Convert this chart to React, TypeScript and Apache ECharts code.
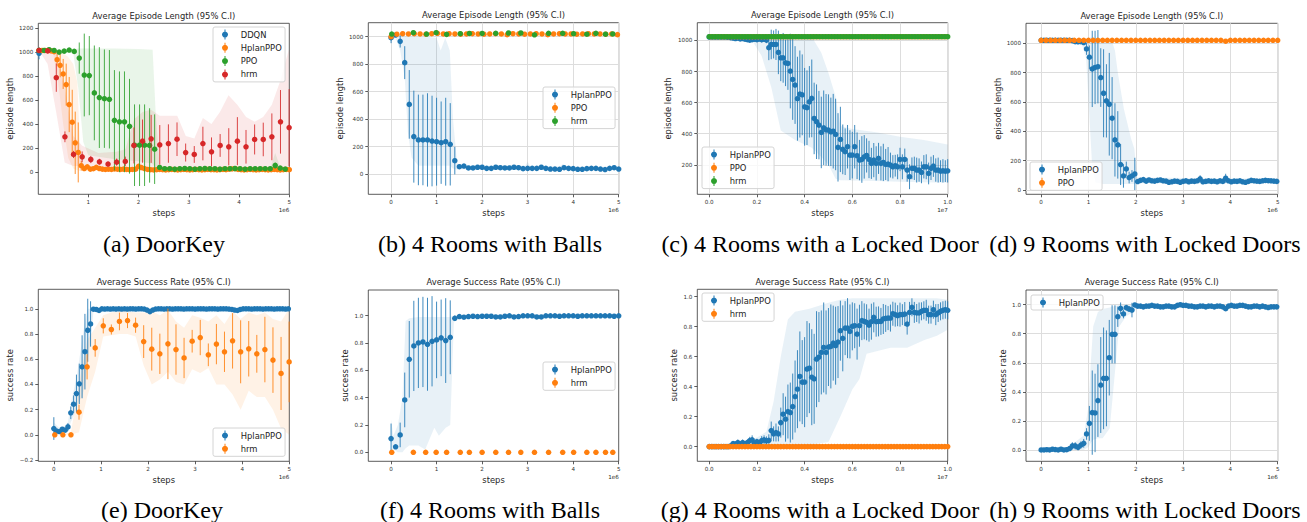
import React, { useEffect, useRef } from "react";
import * as echarts from "echarts";

const BLUE = "#1f77b4", ORANGE = "#ff7f0e", GREEN = "#2ca02c", RED = "#d62728";
const SANS = "DejaVu Sans";
const SERIF = "Liberation Serif";

// evenly spaced training-step sample positions (x in units of 1e6 / 1e7)
const steps = (start: number, step: number, n: number): number[] =>
  Array.from({ length: n }, (_, i) => Math.round((start + step * i) * 10000) / 10000);

// ---------------- tick values ----------------
const xTicks5 = [0, 1, 2, 3, 4, 5];
const xTicksA = [1, 2, 3, 4, 5];
const xTicks1 = [0, 0.2, 0.4, 0.6, 0.8, 1.0];
const yTicks1200 = [0, 200, 400, 600, 800, 1000, 1200];
const yTicks1000 = [0, 200, 400, 600, 800, 1000];
const yTicksC = [200, 400, 600, 800, 1000];
const yTicksE = [-0.2, 0, 0.2, 0.4, 0.6, 0.8, 1.0];
const yTicksRate = [0, 0.2, 0.4, 0.6, 0.8, 1.0];

// ---------------- (a) DoorKey, episode length ----------------
const aDdqnX = [0.02];
const aDdqnY = [990];
const aDdqnE = [50];
const aHplanX = steps(0.02, 0.06, 84);
const aHplanY = [
  1014, 1014, 1014, 1014, 1010, 1003, 937, 890, 818, 729,
  563, 416, 244, 164, 53, 30, 44, 25, 28, 40,
  30, 25, 22, 24, 22, 26, 24, 22, 25, 22,
  20, 22, 24, 48, 38, 28, 22, 20, 18, 20,
  22, 20, 18, 20, 22, 20, 18, 20, 22, 20,
  18, 20, 22, 20, 18, 20, 22, 20, 20, 18,
  20, 22, 20, 24, 26, 28, 22, 20, 18, 20,
  22, 20, 18, 20, 22, 20, 18, 20, 22, 20,
  18, 20, 22, 20,
];
const aHplanE = [
  8, 8, 8, 8, 10, 15, 50, 100, 125, 175,
  230, 270, 260, 250, 40, 15, 15, 10, 10, 12,
  10, 10, 10, 10, 10, 10, 10, 10, 10, 10,
  10, 10, 10, 20, 15, 10, 10, 10, 10, 10,
  8, 8, 8, 8, 8, 8, 8, 8, 8, 8,
  8, 8, 8, 8, 8, 8, 8, 8, 8, 8,
  8, 8, 8, 8, 8, 10, 8, 8, 8, 8,
  8, 8, 8, 8, 8, 8, 8, 8, 8, 8,
  8, 8, 8, 8,
];
const aPpoX = steps(0.02, 0.1, 50);
const aPpoY = [
  1014, 1014, 1020, 1014, 1000, 1008, 1017, 1006, 950, 809,
  804, 660, 621, 612, 607, 432, 419, 419, 382, 224,
  224, 224, 222, 191, 39, 28, 28, 25, 28, 30,
  28, 25, 28, 30, 28, 28, 25, 28, 28, 30,
  28, 25, 28, 28, 28, 28, 28, 55, 33, 25,
];
const aPpoE = [
  10, 10, 10, 10, 12, 10, 10, 12, 130, 345,
  330, 395, 420, 410, 410, 418, 420, 420, 395, 340,
  340, 340, 310, 290, 20, 8, 8, 8, 8, 8,
  8, 8, 8, 8, 8, 8, 8, 8, 8, 8,
  8, 8, 8, 8, 8, 8, 8, 25, 10, 8,
];
const aHrmX = steps(0.02, 0.1716, 30);
const aHrmY = [1014, 1010, 787, 294, 147, 127, 105, 86, 67, 83, 89, 222, 258, 277, 227, 238, 274, 163, 147, 238, 169, 222, 211, 258, 211, 272, 272, 294, 419, 371];
const aHrmE = [20, 20, 118, 45, 30, 45, 30, 25, 20, 30, 40, 150, 180, 200, 165, 160, 140, 75, 70, 140, 120, 95, 155, 200, 140, 125, 140, 195, 265, 320];
const aHplanBandX = [0.02, 0.3, 0.4, 0.5, 0.6, 0.7, 0.78, 0.84, 0.9, 1.0, 5.0];
const aHplanBandLo = [1014, 990, 750, 400, 120, 30, 15, 10, 10, 10, 10];
const aHplanBandHi = [1014, 1014, 1000, 990, 960, 900, 750, 200, 50, 40, 30];
const aPpoBandX = [0.02, 0.7, 0.8, 0.9, 1.0, 1.5, 2.0, 2.28, 2.34, 2.42, 4.62, 4.72, 4.82, 4.92];
const aPpoBandLo = [1000, 995, 700, 250, 140, 110, 90, 70, 30, 20, 20, 20, 20, 20];
const aPpoBandHi = [1020, 1020, 1030, 1030, 1030, 1030, 1025, 1020, 500, 45, 35, 160, 40, 30];
const aHrmBandX = [0.02, 0.19, 0.36, 0.53, 0.7, 0.88, 1.2, 1.56, 1.74, 1.91, 2.08, 2.25, 2.42, 2.59, 2.77, 2.94, 3.11, 3.28, 3.45, 3.62, 3.79, 3.97, 4.14, 4.31, 4.48, 4.65, 4.82, 4.99];
const aHrmBandLo = [1014, 900, 500, 80, 50, 50, 40, 30, 30, 30, 30, 30, 30, 30, 30, 30, 30, 30, 30, 20, 20, 20, 20, 20, 20, 20, 20, 20];
const aHrmBandHi = [1014, 1014, 1000, 700, 300, 220, 160, 170, 190, 440, 500, 520, 470, 470, 470, 300, 280, 450, 400, 500, 640, 560, 460, 420, 460, 560, 760, 1020];

// ---------------- (b) 4 Rooms with Balls, episode length ----------------
const bHplanX = steps(0, 0.1, 51);
const bHplanY = [
  993, 1012, 966, 811, 507, 272, 248, 248, 248, 240,
  235, 228, 235, 216, 97, 53, 58, 44, 44, 49,
  49, 41, 41, 49, 46, 44, 44, 49, 46, 39,
  41, 41, 41, 49, 41, 36, 36, 34, 46, 41,
  39, 34, 34, 39, 41, 41, 36, 32, 41, 46,
  36,
];
const bHplanE = [
  40, 10, 45, 120, 250, 335, 330, 330, 340, 330,
  320, 300, 320, 300, 100, 10, 10, 8, 8, 8,
  8, 8, 8, 8, 8, 8, 8, 8, 8, 8,
  12, 8, 8, 12, 8, 8, 8, 8, 12, 8,
  8, 8, 8, 8, 8, 8, 8, 8, 8, 8,
  8,
];
const bPpoX = steps(0, 0.1275, 40);
const bPpoY = [
  1000, 1018, 1022, 1020, 1022, 1020, 1018, 1022, 1025, 1020,
  1022, 1020, 1018, 1020, 1022, 1020, 1018, 1020, 1022, 1020,
  1015, 1022, 1020, 1018, 1020, 1022, 1020, 1015, 1020, 1022,
  1020, 1020, 1018, 1020, 1022, 1020, 1020, 1018, 1020, 1015,
];
const bHrmX = [0.015, 0.49, 0.78, 0.99, 1.22, 1.52, 1.72, 2.0, 2.3, 2.58, 2.85, 3.15, 3.46, 3.77, 4.01, 4.3, 4.5, 4.71, 4.87];
const bHrmY = [1019, 1029, 1019, 1029, 1017, 1022, 1024, 1024, 1025, 1027, 1027, 1014, 1025, 1025, 1022, 1018, 1025, 1018, 1020];
const bHplanBandX = [0, 0.1, 0.2, 0.3, 0.37, 0.45, 0.6, 0.8, 1.0, 1.09, 1.19, 1.29, 1.36, 1.45, 1.5, 2.95, 3.0, 3.05, 3.7, 3.78, 3.85, 5.0];
const bHplanBandLo = [970, 990, 900, 700, 300, 120, 60, 60, 60, 60, 60, 60, 40, 30, 35, 30, 35, 30, 30, 35, 30, 30];
const bHplanBandHi = [1010, 1020, 1015, 1000, 1000, 1000, 1000, 1000, 990, 900, 990, 900, 400, 80, 60, 60, 90, 60, 55, 75, 55, 50];

// ---------------- (c) 4 Rooms with a Locked Door, episode length ----------------
const cHplanX = steps(0, 0.01, 101);
const cHplanY = [
  1022, 1022, 1022, 1022, 1022, 1022, 1022, 1022, 1020, 1018,
  1015, 1012, 1015, 1010, 1012, 1008, 1005, 1002, 1005, 1008,
  1005, 1010, 1005, 1008, 1002, 953, 974, 974, 974, 923,
  888, 888, 856, 852, 803, 749, 713, 625, 655, 650,
  573, 567, 605, 627, 498, 477, 455, 408, 438, 425,
  423, 412, 416, 395, 312, 363, 299, 284, 316, 262,
  262, 316, 258, 230, 234, 251, 260, 234, 209, 230,
  209, 241, 209, 215, 202, 204, 198, 187, 194, 187,
  234, 187, 234, 166, 123, 177, 177, 166, 166, 151,
  187, 187, 144, 177, 192, 166, 166, 159, 161, 159,
  161,
];
const cHplanE = [
  8, 8, 8, 8, 8, 8, 8, 8, 8, 8,
  8, 8, 8, 10, 8, 10, 12, 10, 12, 10,
  15, 15, 18, 15, 20, 80, 95, 90, 100, 140,
  150, 160, 150, 170, 240, 260, 250, 270, 280, 260,
  250, 240, 230, 250, 230, 240, 220, 230, 240, 230,
  230, 220, 240, 230, 220, 210, 160, 150, 140, 160,
  150, 140, 150, 130, 150, 140, 110, 120, 100, 110,
  110, 100, 110, 120, 100, 110, 80, 75, 70, 80,
  75, 80, 70, 75, 80, 70, 75, 80, 75, 70,
  75, 80, 70, 75, 70, 75, 80, 70, 75, 70,
  75,
];
const cPpoX = steps(0.006, 0.0125, 80);
const cPpoY = [
  1024, 1024, 1024, 1024, 1024, 1024, 1024, 1024, 1024, 1024,
  1024, 1024, 1024, 1024, 1024, 1024, 1024, 1024, 1024, 1024,
  1024, 1024, 1024, 1024, 1024, 1024, 1024, 1024, 1024, 1024,
  1024, 1024, 1024, 1024, 1024, 1024, 1024, 1024, 1024, 1024,
  1024, 1024, 1024, 1024, 1024, 1024, 1024, 1024, 1024, 1024,
  1024, 1024, 1024, 1024, 1024, 1024, 1024, 1024, 1024, 1024,
  1024, 1024, 1024, 1024, 1024, 1024, 1024, 1024, 1024, 1024,
  1024, 1024, 1024, 1024, 1024, 1024, 1024, 1024, 1024, 1024,
];
const cHrmX = steps(0, 0.0125, 81);
const cHrmY = [
  1024, 1024, 1024, 1024, 1024, 1024, 1024, 1024, 1024, 1024,
  1024, 1024, 1024, 1024, 1024, 1024, 1024, 1024, 1024, 1024,
  1024, 1024, 1024, 1024, 1024, 1024, 1024, 1024, 1024, 1024,
  1024, 1024, 1024, 1024, 1024, 1024, 1024, 1024, 1024, 1024,
  1024, 1024, 1024, 1024, 1024, 1024, 1024, 1024, 1024, 1024,
  1024, 1024, 1024, 1024, 1024, 1024, 1024, 1024, 1024, 1024,
  1024, 1024, 1024, 1024, 1024, 1024, 1024, 1024, 1024, 1024,
  1024, 1024, 1024, 1024, 1024, 1024, 1024, 1024, 1024, 1024,
  1024,
];
const cHplanBandX = [0, 0.18, 0.22, 0.26, 0.3, 0.36, 0.43, 0.47, 0.5, 0.53, 0.55, 0.6, 0.7, 0.8, 0.9, 1.0];
const cHplanBandLo = [1010, 1000, 900, 700, 420, 360, 310, 250, 200, 110, 100, 98, 95, 90, 88, 85];
const cHplanBandHi = [1025, 1025, 1030, 1035, 1040, 1035, 1024, 920, 790, 640, 450, 430, 410, 380, 360, 330];

// ---------------- (d) 9 Rooms with Locked Doors, episode length ----------------
const dHplanX = steps(0, 0.06, 84);
const dHplanY = [
  1020, 1020, 1020, 1020, 1020, 1020, 1020, 1020, 1020, 1020,
  1020, 1018, 1011, 1010, 1011, 1005, 961, 905, 825, 835,
  840, 766, 659, 607, 584, 489, 341, 307, 173, 95,
  143, 84, 95, 109, 57, 65, 70, 60, 68, 62,
  60, 65, 68, 62, 60, 52, 55, 60, 58, 52,
  58, 62, 55, 60, 58, 62, 75, 55, 58, 62,
  58, 60, 55, 62, 58, 80, 62, 55, 60, 58,
  62, 55, 52, 58, 65, 62, 60, 58, 62, 65,
  63, 62, 60, 58,
];
const dHplanE = [
  5, 5, 5, 5, 5, 5, 5, 5, 5, 5,
  5, 5, 6, 6, 8, 15, 40, 80, 260, 250,
  250, 200, 300, 250, 350, 280, 250, 230, 140, 80,
  50, 40, 40, 110, 8, 8, 8, 8, 8, 8,
  8, 8, 8, 8, 8, 8, 8, 8, 8, 8,
  8, 8, 8, 8, 8, 8, 25, 8, 8, 8,
  8, 8, 8, 8, 8, 30, 8, 8, 8, 8,
  8, 8, 8, 8, 8, 8, 8, 8, 8, 8,
  8, 8, 8, 8,
];
const dPpoX = steps(0, 0.1, 51);
const dPpoY = [
  1020, 1020, 1020, 1020, 1020, 1020, 1020, 1020, 1020, 1020,
  1020, 1020, 1020, 1020, 1020, 1020, 1020, 1020, 1020, 1020,
  1020, 1020, 1020, 1020, 1020, 1020, 1020, 1020, 1020, 1020,
  1020, 1020, 1020, 1020, 1020, 1020, 1020, 1020, 1020, 1014,
  1020, 1020, 1020, 1020, 1020, 1020, 1020, 1020, 1020, 1020,
  1020,
];
const dHplanBandX = [0, 0.85, 0.95, 1.02, 1.08, 1.15, 1.3, 1.5, 1.56, 1.62, 1.75, 1.9, 1.97, 2.03, 5.0];
const dHplanBandLo = [1015, 1005, 900, 500, 150, 50, 40, 40, 40, 40, 40, 40, 40, 45, 45];
const dHplanBandHi = [1025, 1025, 1030, 1040, 1040, 1035, 1030, 1010, 950, 800, 550, 350, 280, 85, 75];

// ---------------- (e) DoorKey, success rate ----------------
const eHplanX = steps(0, 0.06, 84);
const eHplanY = [
  0.05, 0.03, 0.026, 0.045, 0.037, 0.063, 0.175, 0.243, 0.328, 0.405,
  0.54, 0.66, 0.83, 0.88, 0.997, 0.995, 0.987, 1.0, 0.998, 1.0,
  0.998, 1.0, 0.998, 1.0, 0.998, 1.0, 0.998, 1.0, 1.0, 0.998,
  1.0, 1.0, 0.998, 0.99, 0.978, 0.99, 0.998, 1.0, 1.0, 0.998,
  1.0, 1.0, 0.998, 1.0, 1.0, 1.0, 0.998, 1.0, 1.0, 1.0,
  0.998, 1.0, 1.0, 1.0, 0.998, 1.0, 1.0, 1.0, 0.998, 1.0,
  1.0, 1.0, 0.998, 0.995, 0.99, 0.987, 0.995, 1.0, 1.0, 1.0,
  0.998, 1.0, 1.0, 1.0, 0.998, 1.0, 1.0, 1.0, 0.998, 1.0,
  1.0, 1.0, 0.998, 1.0,
];
const eHplanE = [
  0.09, 0.01, 0.01, 0.015, 0.01, 0.03, 0.05, 0.07, 0.15, 0.16,
  0.25, 0.3, 0.25, 0.18, 0.005, 0.005, 0.01, 0.005, 0.005, 0.005,
  0.005, 0.005, 0.005, 0.005, 0.005, 0.005, 0.005, 0.005, 0.005, 0.005,
  0.005, 0.005, 0.005, 0.01, 0.015, 0.005, 0.005, 0.005, 0.005, 0.005,
  0.005, 0.005, 0.005, 0.005, 0.005, 0.005, 0.005, 0.005, 0.005, 0.005,
  0.005, 0.005, 0.005, 0.005, 0.005, 0.005, 0.005, 0.005, 0.005, 0.005,
  0.005, 0.005, 0.005, 0.005, 0.005, 0.01, 0.005, 0.005, 0.005, 0.005,
  0.005, 0.005, 0.005, 0.005, 0.005, 0.005, 0.005, 0.005, 0.005, 0.005,
  0.005, 0.005, 0.005, 0.005,
];
const eHrmX = steps(0.02, 0.1716, 30);
const eHrmY = [0, 0, 0, 0.18, 0.54, 0.69, 0.865, 0.836, 0.9, 0.907, 0.87, 0.74, 0.68, 0.643, 0.722, 0.677, 0.61, 0.743, 0.772, 0.635, 0.72, 0.659, 0.746, 0.659, 0.683, 0.643, 0.677, 0.593, 0.487, 0.579];
const eHrmE = [0.005, 0.005, 0.005, 0.06, 0.1, 0.07, 0.06, 0.04, 0.07, 0.06, 0.06, 0.13, 0.17, 0.16, 0.28, 0.2, 0.16, 0.09, 0.14, 0.09, 0.16, 0.16, 0.22, 0.25, 0.22, 0.15, 0.26, 0.26, 0.29, 0.32];
const eHplanBandX = [0, 0.1, 0.2, 0.3, 0.36, 0.42, 0.48, 0.54, 0.6, 0.66, 0.72, 0.78, 0.84, 0.9, 5.0];
const eHplanBandLo = [0.0, 0.01, 0.02, 0.03, 0.1, 0.15, 0.22, 0.27, 0.3, 0.4, 0.6, 0.75, 0.97, 0.99, 0.99];
const eHplanBandHi = [0.1, 0.06, 0.06, 0.1, 0.25, 0.35, 0.45, 0.6, 0.75, 0.9, 1.0, 1.0, 1.0, 1.0, 1.0];
const eHrmBandLo = [0, 0, 0, 0.02, 0.3, 0.5, 0.78, 0.79, 0.8, 0.8, 0.78, 0.55, 0.4, 0.44, 0.5, 0.42, 0.4, 0.52, 0.49, 0.53, 0.4, 0.4, 0.32, 0.2, 0.35, 0.3, 0.3, 0.2, 0.05, 0.0];
const eHrmBandHi = [0, 0, 0.02, 0.4, 0.75, 0.85, 0.95, 0.97, 0.98, 0.98, 0.97, 0.97, 0.98, 0.95, 0.99, 0.9, 0.85, 0.95, 0.93, 0.9, 0.95, 0.88, 0.98, 0.92, 0.97, 0.95, 0.97, 0.92, 0.9, 1.0];

// ---------------- (f) 4 Rooms with Balls, success rate ----------------
const fHplanX = steps(0, 0.1, 51);
const fHplanY = [
  0.1, 0.04, 0.127, 0.383, 0.68, 0.778, 0.8, 0.807, 0.79, 0.812,
  0.822, 0.837, 0.817, 0.841, 0.98, 0.993, 0.988, 0.993, 0.995, 0.993,
  0.995, 0.995, 0.995, 0.99, 0.99, 0.995, 0.998, 0.99, 0.993, 0.998,
  0.998, 0.998, 0.99, 0.99, 0.998, 0.998, 0.998, 0.995, 0.998, 0.998,
  0.998, 0.995, 0.998, 0.998, 0.998, 0.998, 0.998, 0.998, 0.998, 0.995,
  0.998,
];
const fHplanE = [
  0.11, 0.01, 0.09, 0.2, 0.28, 0.33, 0.33, 0.33, 0.34, 0.33,
  0.28, 0.28, 0.31, 0.27, 0.02, 0.005, 0.005, 0.005, 0.005, 0.005,
  0.005, 0.005, 0.005, 0.005, 0.005, 0.005, 0.005, 0.005, 0.005, 0.005,
  0.005, 0.005, 0.005, 0.005, 0.005, 0.005, 0.005, 0.005, 0.005, 0.005,
  0.005, 0.005, 0.005, 0.005, 0.005, 0.005, 0.005, 0.005, 0.005, 0.005,
  0.005,
];
const fHrmX = [0.015, 0.49, 0.76, 0.99, 1.22, 1.52, 1.72, 2.0, 2.3, 2.58, 2.85, 3.15, 3.46, 3.77, 4.01, 4.3, 4.5, 4.71, 4.87];
const fHrmY = [0, 0, 0, 0, 0, 0, 0, 0, 0, 0, 0, 0, 0, 0, 0, 0, 0, 0, 0];
const fHplanBandX = [0, 0.05, 0.15, 0.25, 0.32, 0.4, 0.6, 0.75, 0.95, 1.05, 1.2, 1.3, 1.38, 1.45, 5.0];
const fHplanBandLo = [0.0, 0.02, 0.0, 0.0, 0.03, 0.05, 0.05, 0.02, 0.18, 0.12, 0.18, 0.2, 0.95, 0.98, 0.995];
const fHplanBandHi = [0.24, 0.12, 0.2, 0.4, 0.96, 0.98, 0.99, 0.99, 0.99, 0.99, 0.99, 0.99, 1.0, 1.0, 1.0];

// ---------------- (g) 4 Rooms with a Locked Door, success rate ----------------
const gHplanX = steps(0, 0.01, 101);
const gHplanY = [
  0, 0, 0, 0, 0, 0, 0, 0, 0, 0.005,
  0.02, 0.018, 0.027, 0.018, 0.027, 0.018, 0.027, 0.04, 0.045, 0.022,
  0.033, 0.022, 0.04, 0.045, 0.038, 0.042, 0.107, 0.085, 0.094, 0.085,
  0.16, 0.216, 0.183, 0.234, 0.227, 0.267, 0.334, 0.383, 0.468, 0.43,
  0.43, 0.517, 0.523, 0.463, 0.452, 0.583, 0.597, 0.628, 0.661, 0.628,
  0.664, 0.668, 0.69, 0.673, 0.697, 0.773, 0.722, 0.79, 0.79, 0.768,
  0.802, 0.806, 0.75, 0.806, 0.84, 0.835, 0.829, 0.81, 0.833, 0.862,
  0.833, 0.835, 0.835, 0.851, 0.855, 0.857, 0.857, 0.886, 0.88, 0.873,
  0.88, 0.88, 0.884, 0.817, 0.895, 0.929, 0.895, 0.891, 0.891, 0.902,
  0.909, 0.909, 0.88, 0.88, 0.913, 0.88, 0.891, 0.902, 0.909, 0.913,
  0.909,
];
const gHplanE = [
  0.005, 0.005, 0.005, 0.005, 0.005, 0.005, 0.005, 0.005, 0.005, 0.005,
  0.015, 0.015, 0.02, 0.015, 0.02, 0.015, 0.02, 0.025, 0.03, 0.02,
  0.02, 0.02, 0.03, 0.03, 0.03, 0.04, 0.06, 0.05, 0.06, 0.05,
  0.1, 0.14, 0.15, 0.18, 0.2, 0.22, 0.24, 0.26, 0.3, 0.28,
  0.3, 0.32, 0.3, 0.32, 0.3, 0.32, 0.3, 0.28, 0.3, 0.28,
  0.26, 0.28, 0.25, 0.26, 0.24, 0.2, 0.22, 0.18, 0.2, 0.18,
  0.16, 0.15, 0.17, 0.14, 0.13, 0.12, 0.12, 0.11, 0.12, 0.1,
  0.1, 0.1, 0.09, 0.1, 0.09, 0.08, 0.09, 0.08, 0.08, 0.07,
  0.08, 0.07, 0.08, 0.07, 0.07, 0.06, 0.07, 0.06, 0.07, 0.06,
  0.06, 0.07, 0.06, 0.06, 0.06, 0.07, 0.06, 0.06, 0.06, 0.06,
  0.06,
];
const gHrmX = steps(0, 0.0125, 81);
const gHrmY = [
  0, 0, 0, 0, 0, 0, 0, 0, 0, 0,
  0, 0, 0, 0, 0, 0, 0, 0, 0, 0,
  0, 0, 0, 0, 0, 0, 0, 0, 0, 0,
  0, 0, 0, 0, 0, 0, 0, 0, 0, 0,
  0, 0, 0, 0, 0, 0, 0, 0, 0, 0,
  0, 0, 0, 0, 0, 0, 0, 0, 0, 0,
  0, 0, 0, 0, 0, 0, 0, 0, 0, 0,
  0, 0, 0, 0, 0, 0, 0, 0, 0, 0,
  0,
];
const gHplanBandX = [0, 0.08, 0.12, 0.2, 0.24, 0.27, 0.3, 0.33, 0.36, 0.42, 0.5, 0.55, 0.6, 0.63, 0.66, 0.76, 0.83, 0.9, 0.955, 1.0];
const gHplanBandLo = [0, 0, 0, 0, 0, 0, 0, 0, 0, 0.01, 0.03, 0.2, 0.38, 0.45, 0.62, 0.66, 0.66, 0.71, 0.74, 0.78];
const gHplanBandHi = [0, 0, 0.03, 0.06, 0.1, 0.3, 0.6, 0.85, 0.9, 0.92, 0.96, 0.98, 0.99, 0.99, 0.99, 0.99, 0.99, 0.99, 0.99, 0.98];

// ---------------- (h) 9 Rooms with Locked Doors, success rate ----------------
const hHplanX = steps(0, 0.06, 84);
const hHplanY = [
  0.0, 0.0, 0.002, 0.0, 0.005, 0.003, 0.0, 0.005, 0.0, 0.002,
  0.01, 0.028, 0.028, 0.018, 0.034, 0.046, 0.11, 0.183, 0.257, 0.255,
  0.34, 0.447, 0.493, 0.493, 0.635, 0.796, 0.796, 0.917, 0.975, 0.936,
  0.979, 0.97, 0.963, 0.998, 0.99, 0.99, 0.985, 0.99, 0.99, 0.995,
  0.99, 0.99, 0.985, 0.985, 0.99, 0.99, 0.985, 0.985, 0.995, 1.0,
  0.995, 0.995, 0.99, 0.99, 0.985, 0.985, 0.99, 0.99, 0.985, 0.99,
  0.99, 0.985, 0.99, 0.99, 0.985, 0.972, 0.99, 0.995, 0.99, 0.99,
  0.995, 0.995, 0.99, 0.985, 0.985, 0.99, 0.99, 0.985, 0.99, 0.985,
  0.98, 0.985, 0.985, 0.985,
];
const hHplanE = [
  0.005, 0.005, 0.005, 0.005, 0.005, 0.005, 0.005, 0.005, 0.005, 0.005,
  0.005, 0.025, 0.025, 0.02, 0.025, 0.03, 0.04, 0.12, 0.29, 0.27,
  0.25, 0.33, 0.35, 0.33, 0.26, 0.2, 0.2, 0.07, 0.04, 0.03,
  0.02, 0.02, 0.05, 0.005, 0.005, 0.005, 0.005, 0.005, 0.005, 0.005,
  0.005, 0.005, 0.005, 0.005, 0.005, 0.005, 0.005, 0.005, 0.005, 0.005,
  0.005, 0.005, 0.005, 0.005, 0.005, 0.005, 0.005, 0.005, 0.005, 0.005,
  0.005, 0.005, 0.005, 0.005, 0.005, 0.01, 0.005, 0.005, 0.005, 0.005,
  0.005, 0.005, 0.005, 0.005, 0.005, 0.005, 0.005, 0.005, 0.005, 0.005,
  0.005, 0.005, 0.005, 0.005,
];
const hHplanBandX = [0, 0.6, 0.7, 0.9, 1.0, 1.05, 1.1, 1.2, 1.3, 1.45, 1.55, 1.65, 1.8, 1.95, 2.02, 5.0];
const hHplanBandLo = [0, 0, 0, 0, 0.02, 0.05, 0.07, 0.08, 0.08, 0.15, 0.5, 0.85, 0.92, 0.95, 0.98, 0.98];
const hHplanBandHi = [0.005, 0.01, 0.05, 0.1, 0.3, 0.6, 0.85, 0.95, 0.97, 0.98, 0.99, 1.0, 1.0, 1.0, 0.995, 0.995];

// ---------------- panel layout ----------------
type Ser = { name: string; color: string; x: number[]; y: number[]; e?: number[] };
type Band = { color: string; x: number[]; lo: number[]; hi: number[] };
type Panel = {
  box: [number, number, number, number];
  xr: [number, number]; xt: number[]; xDec: boolean;
  yr: [number, number]; yt: number[]; yDec: boolean;
  grid: boolean; exp: string; title: string; yName: string; yNameX: number;
  caption: string; capX: number; capY: number;
  legend: [number, number];
  series: Ser[]; bands: Band[];
};

const LEN_T = "Average Episode Length (95% C.I)";
const SUC_T = "Average Success Rate (95% C.I)";

const panels: Panel[] = [
  {
    box: [38.3, 23.3, 289.3, 194.3], xr: [0.005, 5], xt: xTicksA, xDec: false,
    yr: [-185, 1240], yt: yTicks1200, yDec: false, grid: false, exp: "1e6",
    title: LEN_T, yName: "episode length", yNameX: 10, caption: "(a) DoorKey", capX: 164, capY: 244,
    legend: [213, 27],
    series: [
      { name: "DDQN", color: BLUE, x: aDdqnX, y: aDdqnY, e: aDdqnE },
      { name: "HplanPPO", color: ORANGE, x: aHplanX, y: aHplanY, e: aHplanE },
      { name: "PPO", color: GREEN, x: aPpoX, y: aPpoY, e: aPpoE },
      { name: "hrm", color: RED, x: aHrmX, y: aHrmY, e: aHrmE },
    ],
    bands: [
      { color: ORANGE, x: aHplanBandX, lo: aHplanBandLo, hi: aHplanBandHi },
      { color: GREEN, x: aPpoBandX, lo: aPpoBandLo, hi: aPpoBandHi },
      { color: RED, x: aHrmBandX, lo: aHrmBandLo, hi: aHrmBandHi },
    ],
  },
  {
    box: [368.3, 22.7, 618.7, 194.3], xr: [-0.5, 5], xt: xTicks5, xDec: false,
    yr: [-148, 1102], yt: yTicks1000, yDec: false, grid: true, exp: "1e6",
    title: LEN_T, yName: "episode length", yNameX: 340, caption: "(b) 4 Rooms with Balls", capX: 490, capY: 244,
    legend: [543, 87],
    series: [
      { name: "HplanPPO", color: BLUE, x: bHplanX, y: bHplanY, e: bHplanE },
      { name: "PPO", color: ORANGE, x: bPpoX, y: bPpoY },
      { name: "hrm", color: GREEN, x: bHrmX, y: bHrmY },
    ],
    bands: [{ color: BLUE, x: bHplanBandX, lo: bHplanBandLo, hi: bHplanBandHi }],
  },
  {
    box: [697.3, 22.7, 947.7, 194.3], xr: [-0.05, 1.0], xt: xTicks1, xDec: true,
    yr: [10, 1114], yt: yTicksC, yDec: false, grid: true, exp: "1e7",
    title: LEN_T, yName: "episode length", yNameX: 668, caption: "(c) 4 Rooms with a Locked Door", capX: 820, capY: 244,
    legend: [702, 147],
    series: [
      { name: "HplanPPO", color: BLUE, x: cHplanX, y: cHplanY, e: cHplanE },
      { name: "PPO", color: ORANGE, x: cPpoX, y: cPpoY },
      { name: "hrm", color: GREEN, x: cHrmX, y: cHrmY },
    ],
    bands: [{ color: BLUE, x: cHplanBandX, lo: cHplanBandLo, hi: cHplanBandHi }],
  },
  {
    box: [1026, 23.3, 1277.7, 194.3], xr: [-0.32, 5], xt: xTicks5, xDec: false,
    yr: [-30, 1136], yt: yTicks1000, yDec: false, grid: true, exp: "1e6",
    title: LEN_T, yName: "episode length", yNameX: 998, caption: "(d) 9 Rooms with Locked Doors", capX: 1145, capY: 244,
    legend: [1030, 162],
    series: [
      { name: "HplanPPO", color: BLUE, x: dHplanX, y: dHplanY, e: dHplanE },
      { name: "PPO", color: ORANGE, x: dPpoX, y: dPpoY },
    ],
    bands: [{ color: BLUE, x: dHplanBandX, lo: dHplanBandLo, hi: dHplanBandHi }],
  },
  {
    box: [38.3, 289.3, 289.3, 461.3], xr: [-0.33, 5], xt: xTicks5, xDec: false,
    yr: [-0.21, 1.155], yt: yTicksE, yDec: true, grid: false, exp: "1e6",
    title: SUC_T, yName: "success rate", yNameX: 10, caption: "(e) DoorKey", capX: 162, capY: 509.5,
    legend: [213, 428],
    series: [
      { name: "HplanPPO", color: BLUE, x: eHplanX, y: eHplanY, e: eHplanE },
      { name: "hrm", color: ORANGE, x: eHrmX, y: eHrmY, e: eHrmE },
    ],
    bands: [
      { color: BLUE, x: eHplanBandX, lo: eHplanBandLo, hi: eHplanBandHi },
      { color: ORANGE, x: eHrmX, lo: eHrmBandLo, hi: eHrmBandHi },
    ],
  },
  {
    box: [368.3, 290, 618.7, 461.3], xr: [-0.5, 5], xt: xTicks5, xDec: false,
    yr: [-0.066, 1.187], yt: yTicksRate, yDec: true, grid: false, exp: "1e6",
    title: SUC_T, yName: "success rate", yNameX: 345, caption: "(f) 4 Rooms with Balls", capX: 490, capY: 509.5,
    legend: [543, 362],
    series: [
      { name: "HplanPPO", color: BLUE, x: fHplanX, y: fHplanY, e: fHplanE },
      { name: "hrm", color: ORANGE, x: fHrmX, y: fHrmY },
    ],
    bands: [{ color: BLUE, x: fHplanBandX, lo: fHplanBandLo, hi: fHplanBandHi }],
  },
  {
    box: [697.3, 289.3, 947.7, 461.3], xr: [-0.05, 1.0], xt: xTicks1, xDec: true,
    yr: [-0.098, 1.049], yt: yTicksRate, yDec: true, grid: false, exp: "1e7",
    title: SUC_T, yName: "success rate", yNameX: 674, caption: "(g) 4 Rooms with a Locked Door", capX: 820, capY: 509.5,
    legend: [702, 293],
    series: [
      { name: "HplanPPO", color: BLUE, x: gHplanX, y: gHplanY, e: gHplanE },
      { name: "hrm", color: ORANGE, x: gHrmX, y: gHrmY },
    ],
    bands: [{ color: BLUE, x: gHplanBandX, lo: gHplanBandLo, hi: gHplanBandHi }],
  },
  {
    box: [1026, 290, 1277.7, 461.3], xr: [-0.32, 5], xt: xTicks5, xDec: false,
    yr: [-0.078, 1.101], yt: yTicksRate, yDec: true, grid: true, exp: "1e6",
    title: SUC_T, yName: "success rate", yNameX: 1003, caption: "(h) 9 Rooms with Locked Doors", capX: 1145, capY: 509.5,
    legend: [1031, 295],
    series: [{ name: "HplanPPO", color: BLUE, x: hHplanX, y: hHplanY, e: hHplanE }],
    bands: [{ color: BLUE, x: hHplanBandX, lo: hHplanBandLo, hi: hHplanBandHi }],
  },
];

const LEGEND_ICON = "path://M2.5,0h1v2.1h-1z M2.5,7.9h1v2.1h-1z M3,2a3,3 0 1,1 -0.001,0z";
const fmt = (v: number, dec: boolean) => {
  const s = dec ? v.toFixed(1) : String(Math.round(v));
  return s.replace("-", "\u2212");
};

function buildOption() {
  const grid: any[] = [], xAxis: any[] = [], yAxis: any[] = [], series: any[] = [], legend: any[] = [], texts: any[] = [];
  const tickStyle = { color: "#333", width: 0.8 };
  const labelBase = { fontSize: 5.6, color: "#333", fontFamily: SANS };
  panels.forEach((p, gi) => {
    const [l, t, r, b] = p.box;
    grid.push({
      left: l, top: t, width: r - l, height: b - t, show: true,
      borderColor: "#333", borderWidth: 0.8, backgroundColor: "rgba(0,0,0,0)",
      containLabel: false, outerBoundsMode: "none",
    });
    xAxis.push({
      type: "value", gridIndex: gi, min: p.xr[0], max: p.xr[1],
      axisLine: { show: false, onZero: false },
      axisTick: { show: true, inside: false, length: 3, lineStyle: tickStyle, customValues: p.xt },
      axisLabel: { ...labelBase, margin: 5, customValues: p.xt, formatter: (v: number) => fmt(v, p.xDec) },
      splitLine: { show: p.grid, lineStyle: { color: "#dddddd", width: 1 } },
    });
    yAxis.push({
      type: "value", gridIndex: gi, min: p.yr[0], max: p.yr[1],
      axisLine: { show: false, onZero: false },
      axisTick: { show: true, inside: false, length: 3, lineStyle: tickStyle, customValues: p.yt },
      axisLabel: { ...labelBase, margin: 5, customValues: p.yt, formatter: (v: number) => fmt(v, p.yDec) },
      splitLine: { show: p.grid, lineStyle: { color: "#dddddd", width: 1 } },
    });
    p.bands.forEach((bd) => {
      series.push({
        type: "custom", name: "band", xAxisIndex: gi, yAxisIndex: gi, silent: true, clip: true, z: 2,
        data: [[bd.x[0], bd.lo[0], bd.hi[0]]],
        encode: { x: 0, y: [1, 2] },
        renderItem: (_params: any, api: any) => {
          const up = bd.x.map((x, i) => api.coord([x, bd.hi[i]]));
          const dn = bd.x.map((x, i) => api.coord([x, bd.lo[i]])).reverse();
          return { type: "polygon", shape: { points: up.concat(dn) }, style: { fill: bd.color, opacity: 0.1 } };
        },
      });
    });
    p.series.forEach((s, j) => {
      if (s.e) {
        const e = s.e;
        series.push({
          type: "custom", name: s.name + " CI", xAxisIndex: gi, yAxisIndex: gi, silent: true, clip: true, z: 10 + j * 2,
          data: s.x.map((x, i) => [x, s.y[i] - e[i], s.y[i] + e[i]]),
          encode: { x: 0, y: [1, 2] },
          renderItem: (_params: any, api: any) => {
            const a = api.coord([api.value(0), api.value(1)]);
            const c = api.coord([api.value(0), api.value(2)]);
            return { type: "line", shape: { x1: a[0], y1: a[1], x2: c[0], y2: c[1] }, style: { stroke: s.color, lineWidth: 1, opacity: 0.85 } };
          },
        });
      }
      series.push({
        type: "scatter", name: s.name, xAxisIndex: gi, yAxisIndex: gi, silent: true, z: 11 + j * 2,
        symbol: "circle", symbolSize: 5.5, itemStyle: { color: s.color, opacity: 1 },
        data: s.x.map((x, i) => [x, s.y[i]]),
      });
    });
    legend.push({
      orient: "vertical", left: p.legend[0], top: p.legend[1], z: 50, selectedMode: false,
      itemWidth: 6, itemHeight: 10, itemGap: 3.3, padding: [2.5, 3.3, 2.5, 9],
      backgroundColor: "rgba(255,255,255,0.8)", borderColor: "#d4d4d4", borderWidth: 1, borderRadius: 2,
      textStyle: { fontSize: 8.4, fontFamily: SANS, color: "#222", padding: [0, 0, 0, 7.7] },
      data: p.series.map((s) => ({ name: s.name, icon: LEGEND_ICON, itemStyle: { color: s.color } })),
    });
    const cx = (l + r) / 2, cy = (t + b) / 2;
    const txt = (x: number, y: number, text: string, size: number, family: string, align: string, rot = 0) => ({
      type: "text", x, y, rotation: rot, z: 60, silent: true,
      style: {
        text, fontSize: size, fontFamily: family, fill: family === SERIF ? "#000" : "#262626",
        align, textAlign: align, verticalAlign: "middle", textVerticalAlign: "middle",
      },
    });
    texts.push(txt(cx, t - 7.8, p.title, 8.4, SANS, "center"));
    texts.push(txt(cx, b + 18.5, "steps", 8.4, SANS, "center"));
    texts.push(txt(p.yNameX, cy, p.yName, 8.4, SANS, "center", Math.PI / 2));
    texts.push(txt(r, b + 16, p.exp, 5.6, SANS, "right"));
    texts.push(txt(p.capX, p.capY, p.caption, 24, SERIF, "center"));
  });
  return { animation: false, backgroundColor: "#ffffff", grid, xAxis, yAxis, series, legend, graphic: { elements: texts } };
}

export default function App() {
  const ref = useRef<HTMLDivElement>(null);
  useEffect(() => {
    if (!ref.current) return;
    const chart = echarts.init(ref.current, undefined, { renderer: "svg" });
    chart.setOption(buildOption() as any);
    return () => chart.dispose();
  }, []);
  return <div ref={ref} style={{ position: "absolute", left: 0, top: 0, width: 1307, height: 522 }} />;
}
